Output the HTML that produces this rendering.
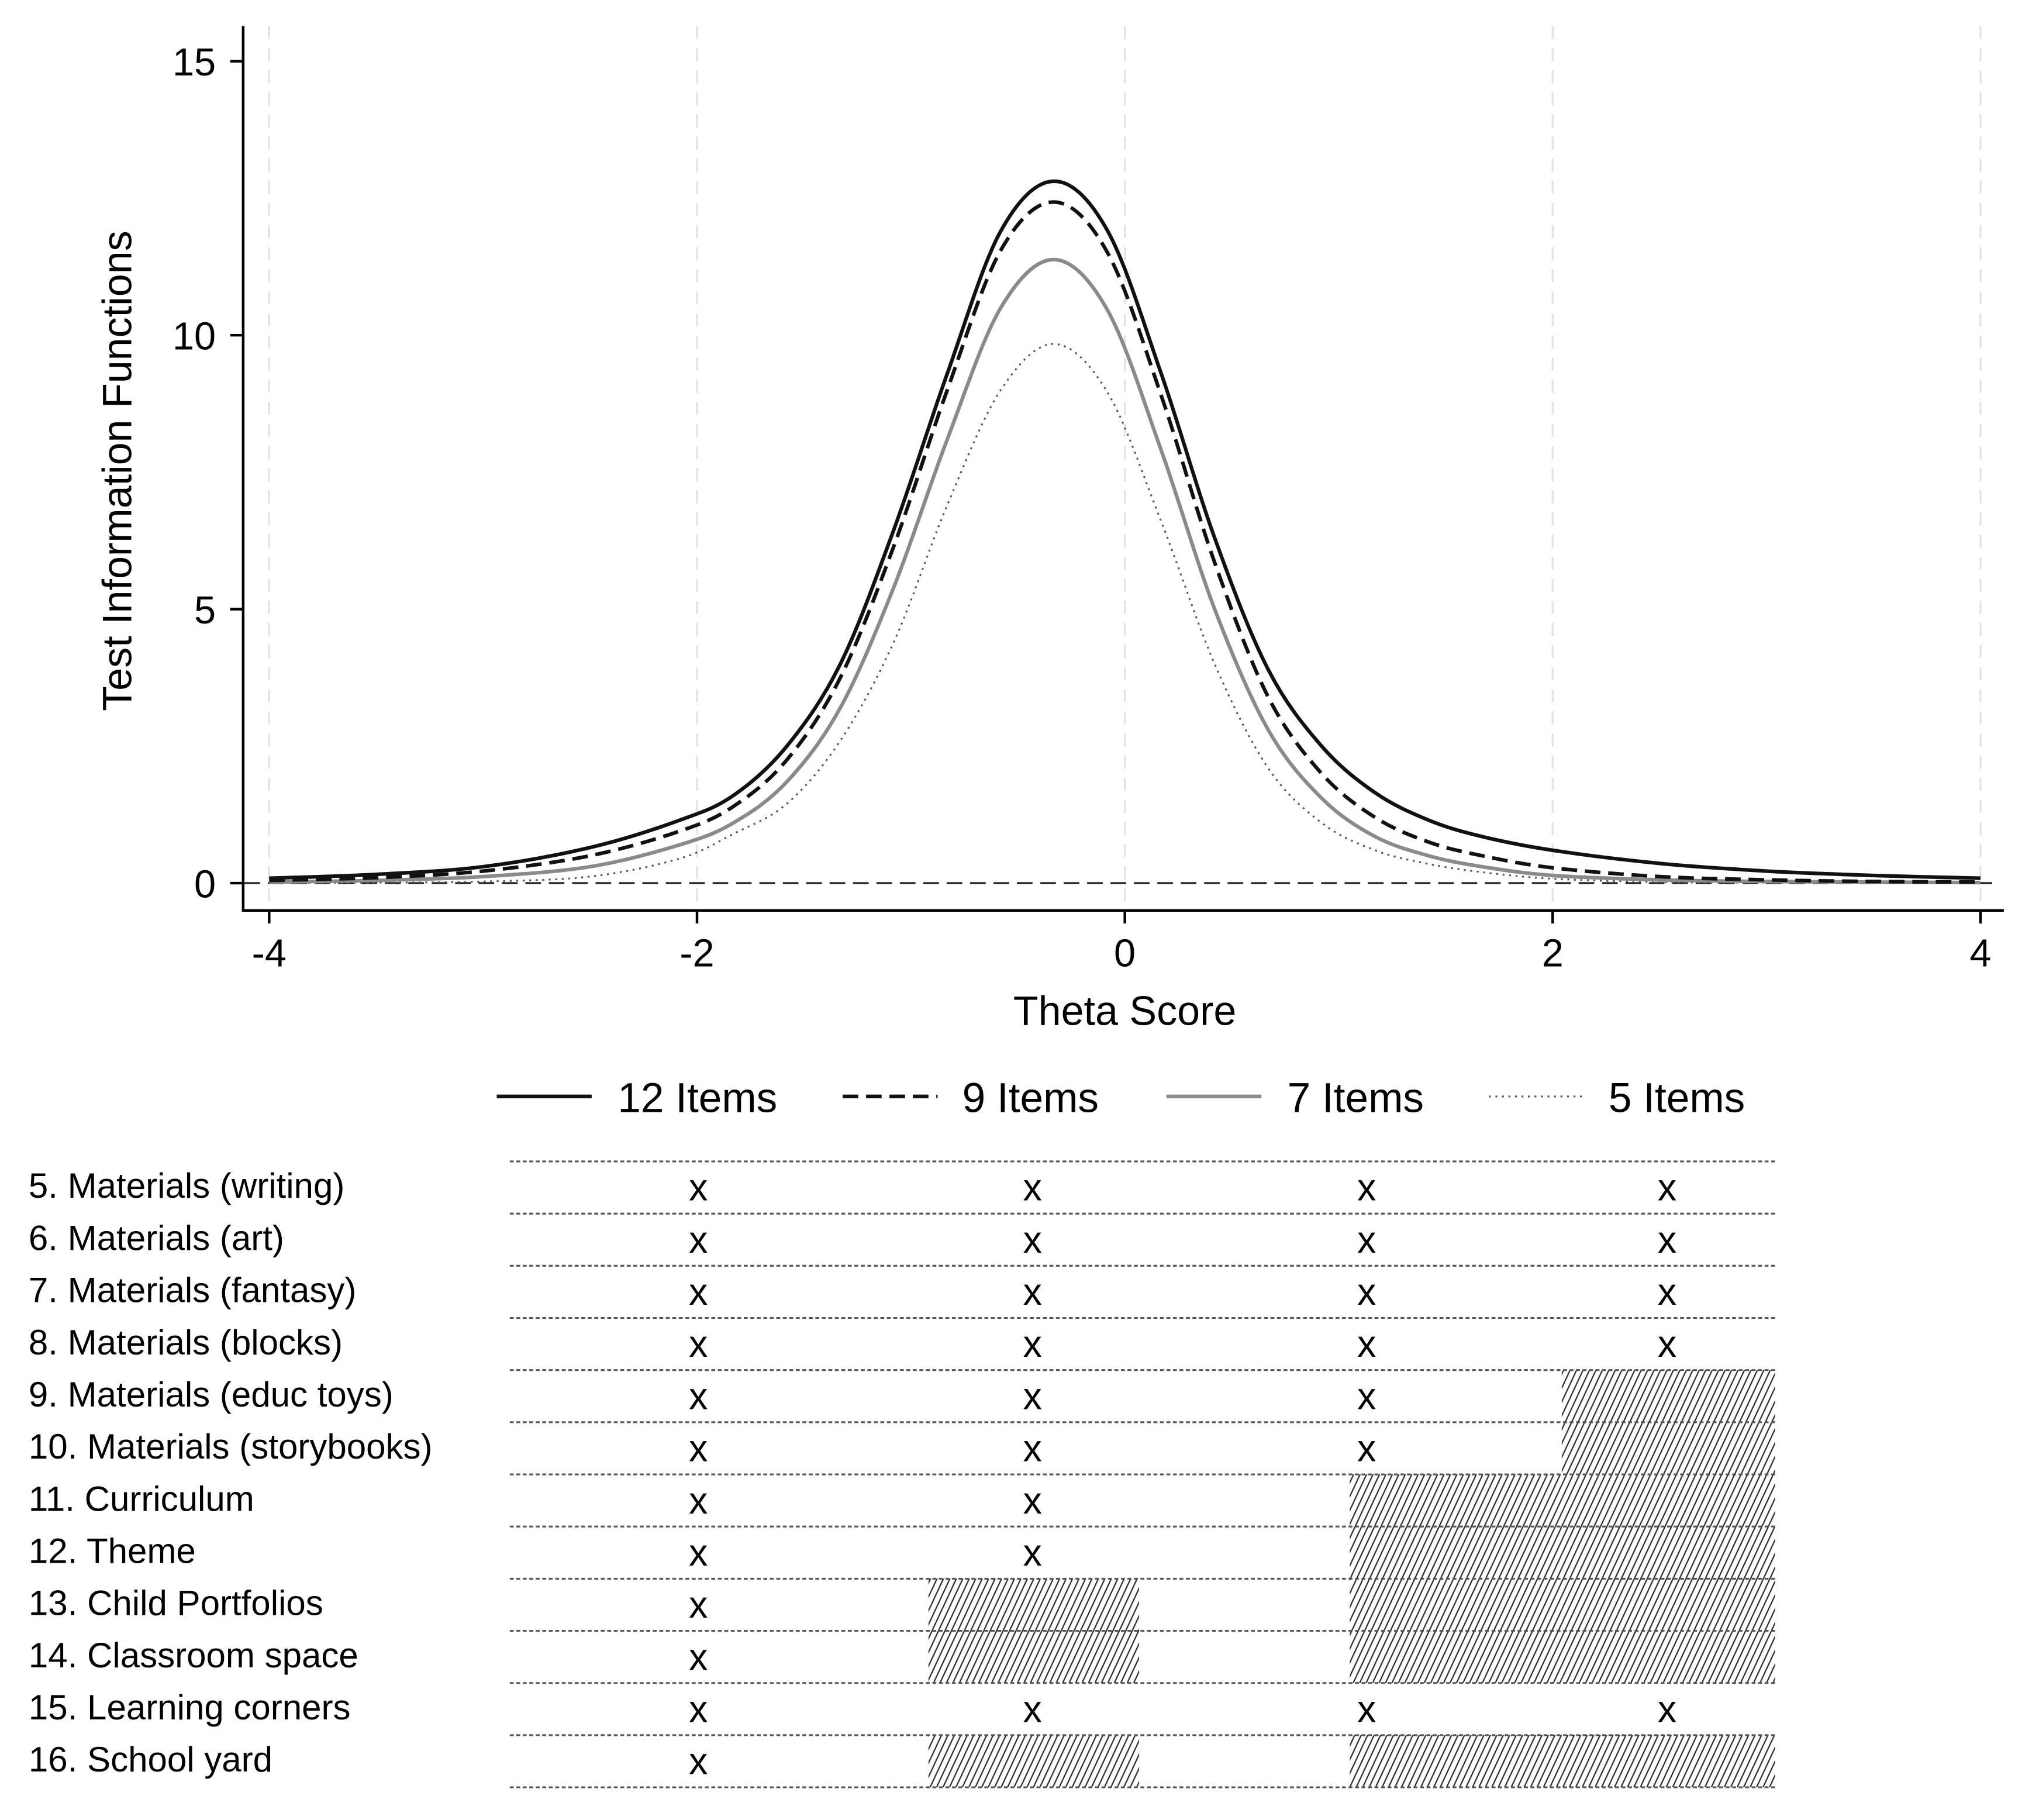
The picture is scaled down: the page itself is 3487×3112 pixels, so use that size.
<!DOCTYPE html>
<html><head><meta charset="utf-8">
<style>
html,body{margin:0;padding:0;background:#fff;}
svg{display:block;font-family:"Liberation Sans",sans-serif;}
</style></head>
<body>
<svg id="chart" width="3487" height="3112" viewBox="0 0 1568 1399.3" xmlns="http://www.w3.org/2000/svg">
<defs>
<pattern id="hatch" patternUnits="userSpaceOnUse" width="4.5" height="4.5" patternTransform="rotate(25)">
<rect width="4.5" height="4.5" fill="#fff"/>
<line x1="0" y1="0" x2="0" y2="4.5" stroke="#2a2a2a" stroke-width="2"/>
</pattern>
</defs>
<g id="plot"></g>
<g id="legend"></g>
<g id="table"></g>
</svg>
<script>
const theta = [-4,-3.5,-3,-2.5,-2.08,-1.83,-1.58,-1.33,-1.08,-0.83,-0.58,-0.33,-0.08,0.17,0.42,0.67,0.92,1.17,1.42,1.67,2,2.5,3,3.5,4];
const items12 = [0.09,0.16,0.3,0.65,1.15,1.6,2.5,4.0,6.45,9.3,11.9,12.81,11.9,9.3,6.3,3.9,2.5,1.65,1.15,0.85,0.6,0.36,0.22,0.14,0.09];
const items9 = [0.05,0.1,0.22,0.5,0.95,1.4,2.25,3.75,6.15,9.0,11.55,12.43,11.5,8.9,5.85,3.4,2.0,1.2,0.75,0.5,0.28,0.12,0.06,0.03,0.02];
const items7 = [0.02,0.05,0.12,0.3,0.7,1.1,1.85,3.2,5.4,8.1,10.5,11.38,10.45,7.9,5.0,2.8,1.55,0.85,0.5,0.3,0.14,0.06,0.03,0.02,0.01];
const items5 = [0.005,0.01,0.03,0.12,0.45,0.9,1.45,2.6,4.4,6.9,9.0,9.84,8.95,6.6,4.0,2.1,1.1,0.6,0.35,0.2,0.08,0.02,0.01,0.005,0];
const xTicks = [-4,-2,0,2,4];
const yTicks = [0,5,10,15];
const rowLabels = ["5. Materials (writing)","6. Materials (art)","7. Materials (fantasy)","8. Materials (blocks)","9. Materials (educ toys)","10. Materials (storybooks)","11. Curriculum","12. Theme","13. Child Portfolios","14. Classroom space","15. Learning corners","16. School yard"];
// 1 = included (x), 0 = excluded (hatched); columns: 12, 9, 7, 5 items
const inc12 = [1,1,1,1,1,1,1,1,1,1,1,1];
const inc9  = [1,1,1,1,1,1,1,1,0,0,1,0];
const inc7  = [1,1,1,1,1,1,0,0,0,0,1,0];
const inc5  = [1,1,1,1,0,0,0,0,0,0,1,0];

const NS="http://www.w3.org/2000/svg";
function mk(parent,tag,attrs,text){const e=document.createElementNS(NS,tag);for(const k in attrs)e.setAttribute(k,attrs[k]);if(text!==undefined)e.textContent=text;parent.appendChild(e);return e;}
const X=t=>865+t*164.5;
const Y=v=>679-v*42.13;
const plot=document.getElementById('plot');

xTicks.forEach(t=>{
  const g=mk(plot,'line',{x1:X(t),x2:X(t),y1:20,y2:700,stroke:'#e3e3e3','stroke-width':1.5,'stroke-dasharray':'10 7'});
  
  
});
const zl=mk(plot,'line',{x1:188,x2:1532,y1:Y(0),y2:Y(0),stroke:'#222','stroke-width':1.5,'stroke-dasharray':'12 6'});



function pathFor(vals){
  const p=theta.map((t,i)=>[X(t),Y(vals[i])]);
  let d='M'+p[0][0]+','+p[0][1];
  for(let i=0;i<p.length-1;i++){
    const p0=p[i-1]||p[i],p1=p[i],p2=p[i+1],p3=p[i+2]||p[i+1];
    const c1=[p1[0]+(p2[0]-p0[0])/6,p1[1]+(p2[1]-p0[1])/6];
    const c2=[p2[0]-(p3[0]-p1[0])/6,p2[1]-(p3[1]-p1[1])/6];
    d+=` C${c1[0]},${c1[1]} ${c2[0]},${c2[1]} ${p2[0]},${p2[1]}`;
  }
  return d;
}
const series=[
  {v:items5,stroke:'#555',w:1.4,dash:'1.5 3.5',name:'line-5-items'},
  {v:items7,stroke:'#8a8a8a',w:2.8,dash:'',name:'line-7-items'},
  {v:items9,stroke:'#111',w:2.8,dash:'12 6',name:'line-9-items'},
  {v:items12,stroke:'#111',w:2.8,dash:'',name:'line-12-items'}
];
series.forEach(s=>{
  const a={d:pathFor(s.v),fill:'none',stroke:s.stroke,'stroke-width':s.w};
  if(s.dash)a['stroke-dasharray']=s.dash;
  const e=mk(plot,'path',a);
  
  
});

const ya=mk(plot,'line',{x1:187,x2:187,y1:20,y2:701,stroke:'#000','stroke-width':2});


const xa=mk(plot,'line',{x1:186,x2:1541,y1:700,y2:700,stroke:'#000','stroke-width':2});


yTicks.forEach(v=>{
  mk(plot,'line',{x1:177,x2:187,y1:Y(v),y2:Y(v),stroke:'#000','stroke-width':2});
  const t=mk(plot,'text',{x:166,y:Y(v)+11,'text-anchor':'end','font-size':30},String(v));
  
  
});
xTicks.forEach(v=>{
  mk(plot,'line',{x1:X(v),x2:X(v),y1:700,y2:710,stroke:'#000','stroke-width':2});
  const t=mk(plot,'text',{x:X(v),y:743,'text-anchor':'middle','font-size':30},String(v));
  
  
});
const xt=mk(plot,'text',{x:865,y:788,'text-anchor':'middle','font-size':31.5},'Theta Score');


const yt=mk(plot,'text',{x:0,y:0,'text-anchor':'middle','font-size':31.5,transform:'translate(101,362) rotate(-90)'},'Test Information Functions');



const leg=document.getElementById('legend');
const legItems=[
  {x:382,tx:475,label:'12 Items',stroke:'#111',w:2.8,dash:''},
  {x:648,tx:740,label:'9 Items',stroke:'#111',w:2.8,dash:'12 6'},
  {x:897,tx:990,label:'7 Items',stroke:'#8a8a8a',w:2.8,dash:''},
  {x:1145,tx:1237,label:'5 Items',stroke:'#555',w:1.4,dash:'1.5 3.5'}
];
legItems.forEach(l=>{
  const g=mk(leg,'g',{});
  
  
  const a={x1:l.x,x2:l.x+73,y1:843,y2:843,stroke:l.stroke,'stroke-width':l.w};
  if(l.dash)a['stroke-dasharray']=l.dash;
  mk(g,'line',a);
  mk(g,'text',{x:l.tx,y:855,'font-size':32},l.label);
});

const tb=document.getElementById('table');
const cols=[inc12,inc9,inc7,inc5];
const colX=[537,794,1051,1282];
const colL=[392,714,1038,1201];
const colR=[714,876,1201,1365];
const top0=893,rh=40.1;
rowLabels.forEach((lab,i)=>{
  const y0=top0+i*rh;
  cols.forEach((c,j)=>{
    if(!c[i]){
      const r=mk(tb,'rect',{x:colL[j],y:y0,width:colR[j]-colL[j],height:rh,fill:'url(#hatch)'});
      
      
    }
  });
});
rowLabels.forEach((lab,i)=>{
  const y0=top0+i*rh;
  const t=mk(tb,'text',{x:22,y:y0+28,'font-size':27},lab);
  
  
  cols.forEach((c,j)=>{
    if(c[i]){
      const m=mk(tb,'text',{x:colX[j],y:y0+30,'text-anchor':'middle','font-size':29},'x');
      
      
    }
  });
});
for(let i=0;i<=rowLabels.length;i++){
  const y=top0+i*rh;
  const l=mk(tb,'line',{x1:392,x2:1365,y1:y,y2:y,stroke:'#555','stroke-width':1.4,'stroke-dasharray':'3 2'});
  
  
}
</script>
</body></html>
